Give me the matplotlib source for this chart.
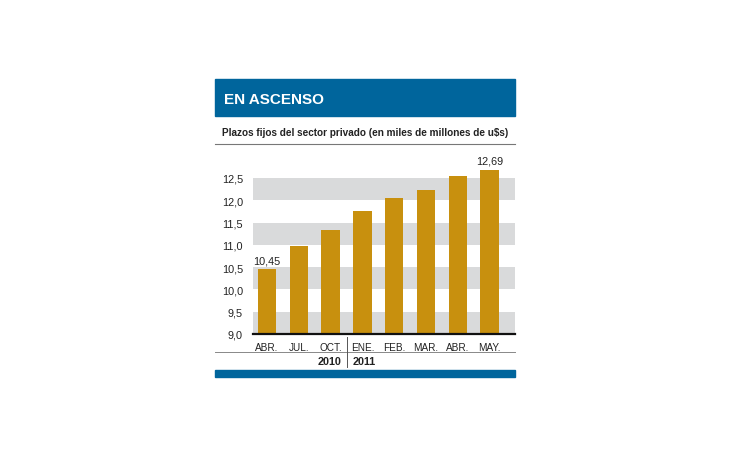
import matplotlib.pyplot as plt
from matplotlib.patches import Rectangle
from matplotlib.lines import Line2D

# Data
months = ["ABR.", "JUL.", "OCT.", "ENE.", "FEB.", "MAR.", "ABR.", "MAY."]
values = [10.45, 10.98, 11.33, 11.75, 12.05, 12.22, 12.55, 12.69]
years = ["2010", "2011"]
yticks = [9.0, 9.5, 10.0, 10.5, 11.0, 11.5, 12.0, 12.5]
labelled = {0: "10,45", 7: "12,69"}

blue = "#00659c"
gold = "#c8900e"
band = "#d9dadb"
txt_col = "#222222"
font = ["Liberation Sans", "DejaVu Sans"]

W, H = 730, 460
fig = plt.figure(figsize=(W / 100, H / 100), dpi=100)


def fx(px):
    return px / W


def fy(py):
    return 1 - py / H


# header bar
fig.patches.append(Rectangle((fx(215), fy(117)), fx(300), 37 / H,
                             transform=fig.transFigure, color=blue, zorder=0))
fig.text(fx(224), fy(99.5), "EN ASCENSO", color="white", fontsize=11,
         fontweight="bold", family=font, va="center", ha="left")
fig.text(fx(221.5), fy(132.5), "Plazos fijos del sector privado (en miles de millones de u$s)",
         color=txt_col, fontsize=7.2, fontweight="bold", family=font,
         va="center", ha="left")
fig.lines.append(Line2D([fx(215), fx(515)], [fy(145), fy(145)],
                        transform=fig.transFigure, color="#777777", lw=0.8))

# chart area
ax = fig.add_axes([fx(252.7), fy(335), fx(515) - fx(252.7), 178.3 / H])
for lo in [9.0, 10.0, 11.0, 12.0]:
    ax.axhspan(lo, lo + 0.5, color=band, zorder=0, lw=0)

x = range(len(values))
ax.bar(x, values, width=0.58, color=gold, zorder=2)
for i, txt in labelled.items():
    ax.annotate(txt, (i, values[i]), xytext=(0, 3), textcoords="offset points",
                ha="center", va="bottom", fontsize=7.8, family=font, color=txt_col)

ax.set_xlim(-0.45, 7.8)
ax.set_ylim(9.0, 13.0)
ax.set_yticks(yticks)
ax.set_yticklabels([f"{v:.1f}".replace(".", ",") for v in yticks],
                   fontsize=7.8, family=font, color=txt_col)
ax.set_xticks(list(x))
ax.set_xticklabels(months, fontsize=7.2, family=font, color=txt_col)
ax.tick_params(length=0, pad=7)
ax.tick_params(axis="x", pad=6)
for s in ["top", "right", "left"]:
    ax.spines[s].set_visible(False)
ax.spines["bottom"].set_linewidth(1.6)
ax.spines["bottom"].set_color("#111111")
ax.spines["bottom"].set_zorder(3)

# year row
fig.lines.append(Line2D([fx(215), fx(515)], [fy(353), fy(353)],
                        transform=fig.transFigure, color="#888888", lw=0.7))
fig.lines.append(Line2D([fx(346.7), fx(346.7)], [fy(338), fy(368)],
                        transform=fig.transFigure, color="#555555", lw=0.7))
fig.text(fx(341), fy(362.5), years[0], fontsize=7.8, fontweight="bold", family=font,
         ha="right", va="center", color=txt_col)
fig.text(fx(353), fy(362.5), years[1], fontsize=7.8, fontweight="bold", family=font,
         ha="left", va="center", color=txt_col)

# bottom bar
fig.patches.append(Rectangle((fx(215), fy(378)), fx(300), 7 / H,
                             transform=fig.transFigure, color=blue, zorder=0))

fig.savefig("out.png", dpi=100, facecolor="white")
